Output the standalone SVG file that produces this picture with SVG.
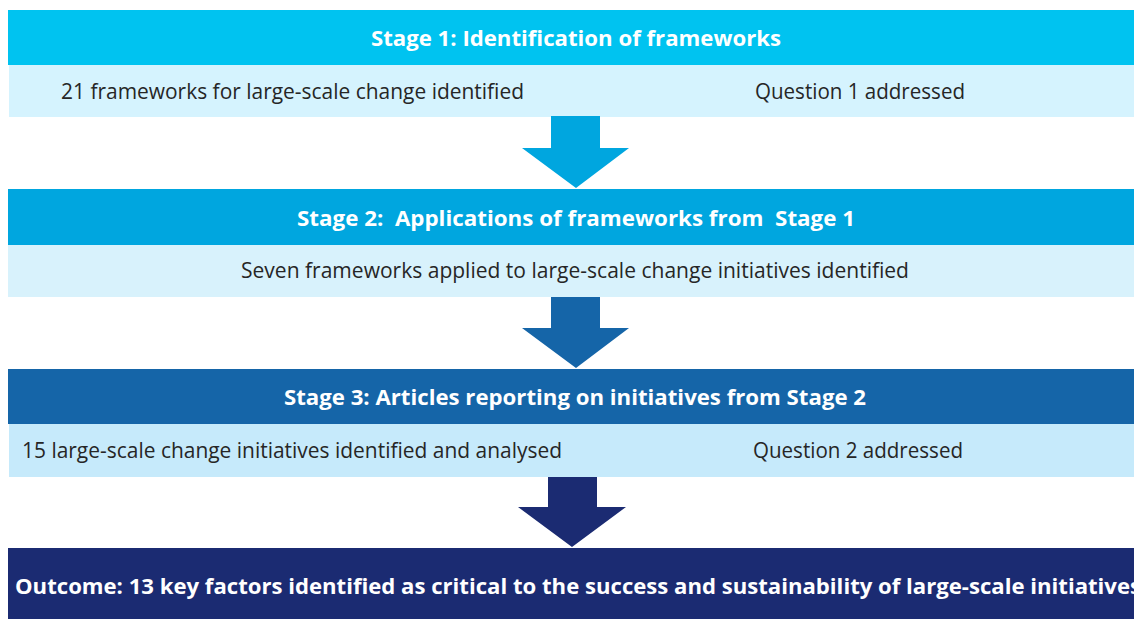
<svg xmlns="http://www.w3.org/2000/svg" width="1134" height="619" viewBox="0 0 1134 619">
  <style>
    .head { font-family: "Open Sans", "Liberation Sans", sans-serif; font-weight: 700; font-size: 22px; fill: #ffffff; }
    .body { font-family: "Open Sans", "Liberation Sans", sans-serif; font-size: 21px; fill: #262626; }
  </style>
  <rect width="1134" height="619" fill="#ffffff"/>

  <!-- Stage 1 -->
  <g id="stage1">
    <rect x="8" y="10" width="1126" height="55" fill="#00C3F0"/>
    <rect x="9" y="65" width="1125" height="52" fill="#D5F3FE"/>
    <text class="head" x="371" y="46" textLength="410" lengthAdjust="spacingAndGlyphs">Stage 1: Identification of frameworks</text>
    <text class="body" x="61" y="99" textLength="463" lengthAdjust="spacingAndGlyphs">21 frameworks for large-scale change identified</text>
    <text class="body" x="755" y="99" textLength="210" lengthAdjust="spacingAndGlyphs">Question 1 addressed</text>
  </g>

  <!-- Stage 2 -->
  <g id="stage2">
    <rect x="8" y="189" width="1126" height="56" fill="#00A6DF"/>
    <rect x="8" y="245" width="1126" height="52" fill="#D8F2FC"/>
    <text class="head" x="297" y="226" textLength="558" lengthAdjust="spacingAndGlyphs" xml:space="preserve">Stage 2:  Applications of frameworks from  Stage 1</text>
    <text class="body" x="241" y="278" textLength="668" lengthAdjust="spacingAndGlyphs">Seven frameworks applied to large-scale change initiatives identified</text>
  </g>

  <!-- Stage 3 -->
  <g id="stage3">
    <rect x="8" y="369" width="1126" height="55" fill="#1565A8"/>
    <rect x="9" y="424" width="1125" height="53" fill="#C6EAFB"/>
    <text class="head" x="284" y="405" textLength="582" lengthAdjust="spacingAndGlyphs">Stage 3: Articles reporting on initiatives from Stage 2</text>
    <text class="body" x="22" y="458" textLength="540" lengthAdjust="spacingAndGlyphs">15 large-scale change initiatives identified and analysed</text>
    <text class="body" x="753" y="458" textLength="210" lengthAdjust="spacingAndGlyphs">Question 2 addressed</text>
  </g>

  <!-- Outcome -->
  <g id="outcome">
    <rect x="8" y="548" width="1126" height="71" fill="#1B2B72"/>
    <text class="head" x="15" y="594" textLength="1126" lengthAdjust="spacingAndGlyphs">Outcome: 13 key factors identified as critical to the success and sustainability of large-scale initiatives</text>
  </g>

  <!-- Block arrows between stages -->
  <g id="connectors">
    <polygon points="551,116 600,116 600,148 629,148 576,188 522,148 551,148" fill="#00A6DF"/>
    <polygon points="551,297 600,297 600,328 629,328 576,368 522,328 551,328" fill="#1565A8"/>
    <polygon points="548,477 597,477 597,507 626,507 572,547 518,507 548,507" fill="#1B2B72"/>
  </g>
</svg>
